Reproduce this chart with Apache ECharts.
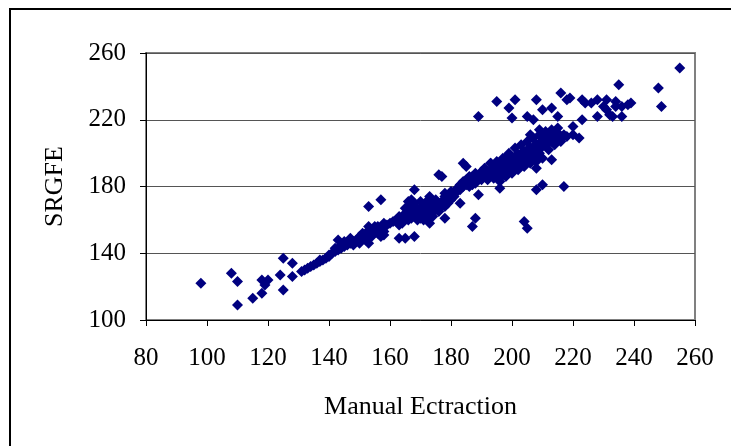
<!DOCTYPE html>
<html><head><meta charset="utf-8">
<script src="https://cdn.jsdelivr.net/npm/echarts@6/dist/echarts.min.js"></script>
<style>html,body{margin:0;padding:0;background:#fff}#c{width:731px;height:446px}</style>
</head><body><div id="c"></div>
<script>
const xTicks = [80,100,120,140,160,180,200,220,240,260];
const yTicks = [100,140,180,220,260];
const xTitle = "Manual Ectraction";
const yTitle = "SRGFE";
// Manual extraction values (x)
const manualX = [
98,108,110,110,115,118,118,120,119,124,125,125,128,128,
131,132,133,134,135,136,137,137,138,139,140,140,141,142,142,143,144,144,145,146,147,147,148,149,150,150,151,152,152,153,154,154,155,156,156,157,158,158,159,160,161,162,163,163,164,165,165,166,166,167,167,168,168,169,169,170,170,171,171,172,172,173,173,174,174,175,175,176,177,178,178,179,180,180,181,182,182,183,183,184,184,185,185,186,186,187,187,188,188,189,190,190,191,191,192,192,193,193,194,194,195,195,195,196,196,196,197,197,197,198,198,198,199,199,199,200,200,200,201,201,201,202,202,202,203,203,203,204,204,204,205,205,205,206,206,206,207,207,207,208,208,208,209,209,209,210,210,210,211,211,211,212,212,213,213,213,214,214,215,215,216,217,218,220,
143,147,153,157,153,153,158,163,165,168,168,166,173,173,176,177,178,178,183,184,185,187,187,188,189,189,190,193,195,196,199,200,201,199,204,205,208,205,207,210,208,208,210,213,213,216,215,217,218,219,217,220,222,223,223,224,226,228,228,230,231,231,232,233,234,234,235,236,236,238,239,248,249,255,
164,166,167,168,169,170,171,172,174,176,163,165,167,170,173,175,177,179,180,181,178,
145,148,150,152,154,156,157,158,155,151,
186,188,190,192,194,196,198,193,195,197,199,200,202,204,206,201,203,205,207,209,210,212,214,216,208,211,213,215,209,206
];
// SRGFE values (y)
const srgfeY = [
122,128,123,109,113,116,124,124,121,127,137,118,134,126,
129,130,131,132,133,134,135,136,136,137,138,139,140,141,143,142,143,145,144,145,146,148,147,148,148,150,149,150,152,151,152,154,153,154,156,155,156,158,157,158,159,160,160,162,161,162,164,163,166,164,168,165,162,166,163,164,167,165,169,166,163,167,170,168,165,169,172,170,171,172,176,173,175,177,176,177,179,178,181,180,183,181,184,182,186,183,186,185,188,186,187,189,188,191,189,186,190,188,191,187,192,189,186,193,190,185,194,191,188,195,192,189,196,193,190,197,194,191,198,195,192,199,196,193,200,197,194,201,198,195,202,199,196,203,200,197,204,201,198,205,202,199,206,203,200,207,204,210,208,205,211,209,206,210,207,212,211,208,212,209,210,211,210,211,
148,149,168,172,156,146,151,149,149,150,178,171,174,158,187,186,161,174,170,194,192,181,156,161,175,222,188,194,231,179,227,221,232,200,159,155,232,222,220,226,191,178,181,196,227,236,222,180,232,233,210,216,209,220,232,230,230,232,222,228,232,226,223,222,228,231,241,222,228,229,230,239,228,251,
158,160,161,170,160,171,160,171,162,165,157,167,172,161,162,166,168,170,172,174,168,
147,145,146,148,150,152,150,153,156,152,
180,182,184,184,185,183,186,194,195,197,199,188,190,192,194,203,205,207,209,211,197,202,205,207,195,213,214,215,214,211
];
const pts = manualX.map((x,i)=>[x, srgfeY[i]]);
const font = '"Liberation Serif","Times New Roman",serif';
const chart = echarts.init(document.getElementById('c'));
chart.setOption({
  animation:false,
  backgroundColor:'#fff',
  graphic:[{type:'rect',shape:{x:10,y:9,width:740,height:460},style:{fill:null,stroke:'#000',lineWidth:2},silent:true}],
  grid:{left:146,right:36,top:53,bottom:126,show:true,borderColor:'#808080',borderWidth:2,backgroundColor:'transparent'},
  xAxis:{type:'value',min:80,max:260,interval:20,
    name:xTitle,nameLocation:'middle',nameGap:74,
    nameTextStyle:{fontFamily:font,fontSize:26,color:'#000'},
    axisLine:{show:true,lineStyle:{color:'#000',width:1}},
    axisTick:{show:true,length:6,lineStyle:{color:'#000'}},
    axisLabel:{margin:26,fontFamily:font,fontSize:25,color:'#000',formatter:v=>xTicks.includes(v)?String(v):''},
    splitLine:{show:false}},
  yAxis:{type:'value',min:100,max:260,interval:40,
    name:yTitle,nameLocation:'middle',nameGap:78,nameRotate:90,
    nameTextStyle:{fontFamily:font,fontSize:26,color:'#000'},
    axisLine:{show:true,lineStyle:{color:'#000',width:1}},
    axisTick:{show:true,length:6,lineStyle:{color:'#000'}},
    axisLabel:{margin:20,fontFamily:font,fontSize:25,color:'#000',formatter:v=>yTicks.includes(v)?String(v):''},
    splitLine:{show:true,lineStyle:{color:'#555',width:1}}},
  series:[{type:'scatter',data:pts,symbol:'diamond',symbolSize:[11,11],
    itemStyle:{color:'#000080',opacity:1}}]
});
</script></body></html>
